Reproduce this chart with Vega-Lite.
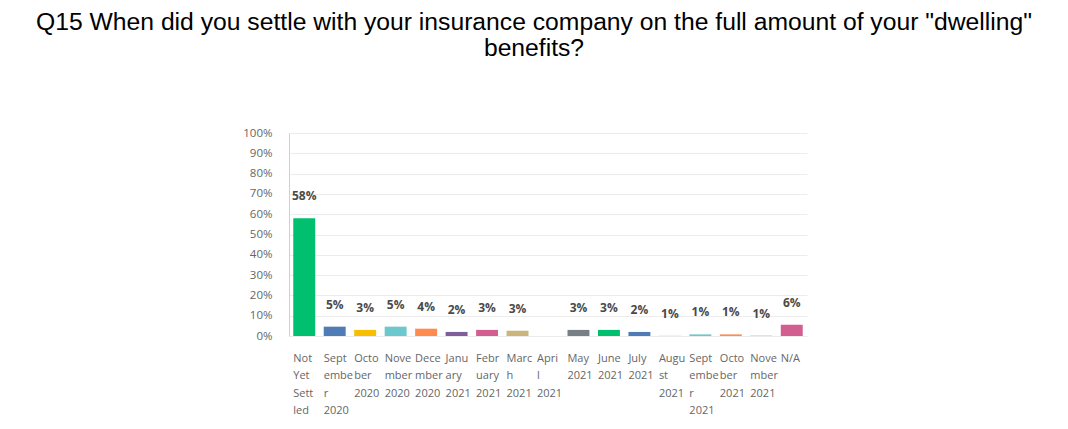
{
  "$schema": "https://vega.github.io/schema/vega-lite/v6.json",
  "autosize": {"type": "none"},
  "width": 518,
  "height": 203,
  "padding": {"left": 289, "top": 133, "right": 261, "bottom": 93},
  "background": "white",
  "title": {
    "text": ["Q15 When did you settle with your insurance company on the full amount of your \"dwelling\"", "benefits?"],
    "font": "Liberation Sans",
    "fontSize": 24.7,
    "fontWeight": "normal",
    "color": "#000000",
    "anchor": "middle",
    "frame": "group",
    "dx": -14,
    "offset": 66,
    "lineHeight": 26
  },
  "data": {
    "values": [
      {"answer": "Not Yet Settled", "pct": 58, "label": "58%"},
      {"answer": "September 2020", "pct": 4.6, "label": "5%"},
      {"answer": "October 2020", "pct": 3.0, "label": "3%"},
      {"answer": "November 2020", "pct": 4.6, "label": "5%"},
      {"answer": "December 2020", "pct": 3.6, "label": "4%"},
      {"answer": "January 2021", "pct": 2.0, "label": "2%"},
      {"answer": "February 2021", "pct": 3.0, "label": "3%"},
      {"answer": "March 2021", "pct": 2.6, "label": "3%"},
      {"answer": "April 2021", "pct": 0, "label": ""},
      {"answer": "May 2021", "pct": 3.0, "label": "3%"},
      {"answer": "June 2021", "pct": 3.0, "label": "3%"},
      {"answer": "July 2021", "pct": 2.0, "label": "2%"},
      {"answer": "August 2021", "pct": 0.1, "label": "1%"},
      {"answer": "September 2021", "pct": 0.8, "label": "1%"},
      {"answer": "October 2021", "pct": 0.8, "label": "1%"},
      {"answer": "November 2021", "pct": 0.1, "label": "1%"},
      {"answer": "N/A", "pct": 5.6, "label": "6%"}
    ]
  },
  "encoding": {
    "x": {
      "field": "answer",
      "type": "nominal",
      "sort": null,
      "scale": {"paddingInner": 0.28, "paddingOuter": 0.14},
      "axis": {
        "title": null,
        "labelAngle": 0,
        "ticks": false,
        "domain": false,
        "labelAlign": "left",
        "labelBaseline": "top",
        "labelOffset": -11,
        "labelPadding": 16,
        "labelFont": "Open Sans",
        "labelFontSize": 11,
        "labelColor": "#666666",
        "labelLineHeight": 17.5,
        "labelLimit": 0,
        "labelOverlap": false,
        "labelExpr": "({'Not Yet Settled': ['Not','Yet','Sett','led'], 'September 2020': ['Sept','embe','r','2020'], 'October 2020': ['Octo','ber','2020'], 'November 2020': ['Nove','mber','2020'], 'December 2020': ['Dece','mber','2020'], 'January 2021': ['Janu','ary','2021'], 'February 2021': ['Febr','uary','2021'], 'March 2021': ['Marc','h','2021'], 'April 2021': ['Apri','l','2021'], 'May 2021': ['May','2021'], 'June 2021': ['June','2021'], 'July 2021': ['July','2021'], 'August 2021': ['Augu','st','2021'], 'September 2021': ['Sept','embe','r','2021'], 'October 2021': ['Octo','ber','2021'], 'November 2021': ['Nove','mber','2021'], 'N/A': ['N/A']})[datum.value]"
      }
    },
    "y": {
      "field": "pct",
      "type": "quantitative",
      "scale": {"domain": [0, 100]},
      "axis": {
        "title": null,
        "values": [0, 10, 20, 30, 40, 50, 60, 70, 80, 90, 100],
        "labelExpr": "datum.value + '%'",
        "labelOverlap": false,
        "ticks": false,
        "domain": true,
        "domainColor": "#d0d0d0",
        "gridColor": "#ececec",
        "labelFont": "Open Sans",
        "labelFontSize": 11.5,
        "labelColor": "#666666",
        "labelPadding": 17
      }
    }
  },
  "layer": [
    {
      "mark": {"type": "bar"},
      "encoding": {
        "color": {
          "field": "answer",
          "type": "nominal",
          "sort": null,
          "legend": null,
          "scale": {
            "domain": ["Not Yet Settled", "September 2020", "October 2020", "November 2020", "December 2020", "January 2021", "February 2021", "March 2021", "April 2021", "May 2021", "June 2021", "July 2021", "August 2021", "September 2021", "October 2021", "November 2021", "N/A"],
            "range": ["#00BF6F", "#507CB6", "#F9BE00", "#6BC8CD", "#FF8B4F", "#7F5F9A", "#D25F90", "#CAB67D", "#9DA3A8", "#768086", "#00BF6F", "#507CB6", "#F9BE00", "#6BC8CD", "#FF8B4F", "#7F5F9A", "#D25F90"]
          }
        }
      }
    },
    {
      "mark": {"type": "text", "baseline": "middle", "dy": -22, "font": "Open Sans", "fontSize": 12, "fontWeight": "bold", "color": "#4a4a4a"},
      "encoding": {
        "text": {"field": "label", "type": "nominal"}
      }
    }
  ],
  "config": {
    "view": {"stroke": null}
  }
}
